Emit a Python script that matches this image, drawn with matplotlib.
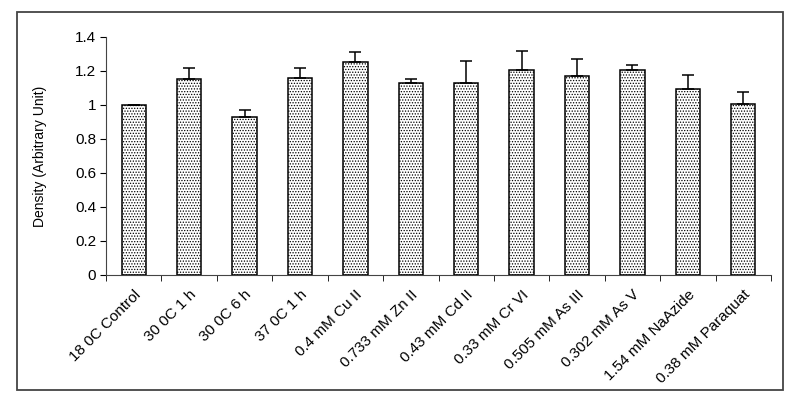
import matplotlib; matplotlib.use('Agg')
import matplotlib.pyplot as plt
import numpy as np
from matplotlib.patches import Rectangle

plt.rcParams['font.family'] = ['Liberation Sans', 'DejaVu Sans']
plt.rcParams['hatch.linewidth'] = 0.6

labels = ['18 0C Control', '30 0C 1 h', '30 0C 6 h', '37 0C 1 h', '0.4 mM Cu II', '0.733 mM Zn II',
          '0.43 mM Cd II', '0.33 mM Cr VI', '0.505 mM As III', '0.302 mM As V', '1.54 mM NaAzide',
          '0.38 mM Paraquat']
density = [1.0, 1.153, 0.929, 1.159, 1.253, 1.129, 1.129, 1.206, 1.173, 1.206, 1.094, 1.004]
err = [0.0, 0.065, 0.04, 0.06, 0.06, 0.024, 0.13, 0.11, 0.10, 0.03, 0.08, 0.075]

fig = plt.figure(figsize=(7.98, 4), dpi=100)
fig.patches.append(Rectangle((17/798, 1-390/400), 766/798, 378/400, transform=fig.transFigure,
                             fill=False, ec='#444444', lw=1.3))
ax = fig.add_axes([106/798, 1-275/400, 665/798, 238/400])
x = np.arange(len(labels))
ax.bar(x, density, width=0.44, color='white', edgecolor='black', lw=1.1, hatch='......', zorder=2)
ax.errorbar(x, density, yerr=[np.zeros(len(err)), err], fmt='none', ecolor='black',
            elinewidth=1.1, capsize=4, capthick=1.1, zorder=3)
ax.set_xlim(-0.5, len(labels)-0.5)
ax.set_ylim(0, 1.4)
ax.set_yticks(np.arange(0, 1.41, 0.2))
ax.set_yticklabels(['0', '0.2', '0.4', '0.6', '0.8', '1', '1.2', '1.4'], fontsize=11)
ax.set_xticks(x)
ax.set_xticklabels(labels, rotation=45, ha='right', va='top', rotation_mode='anchor', fontsize=11)
ax.tick_params(axis='x', which='major', length=0, pad=9)
ax.set_xticks(np.arange(-0.5, len(labels)), minor=True)
ax.tick_params(axis='x', which='minor', length=4, direction='out')
ax.tick_params(axis='y', length=4, direction='out', pad=3)
for s in ['top', 'right']:
    ax.spines[s].set_visible(False)
ax.spines['left'].set_color('#444444')
ax.spines['bottom'].set_color('#444444')
ax.set_ylabel('Density (Arbitrary Unit)', fontsize=10, labelpad=20)
fig.savefig('out.png', dpi=100)
